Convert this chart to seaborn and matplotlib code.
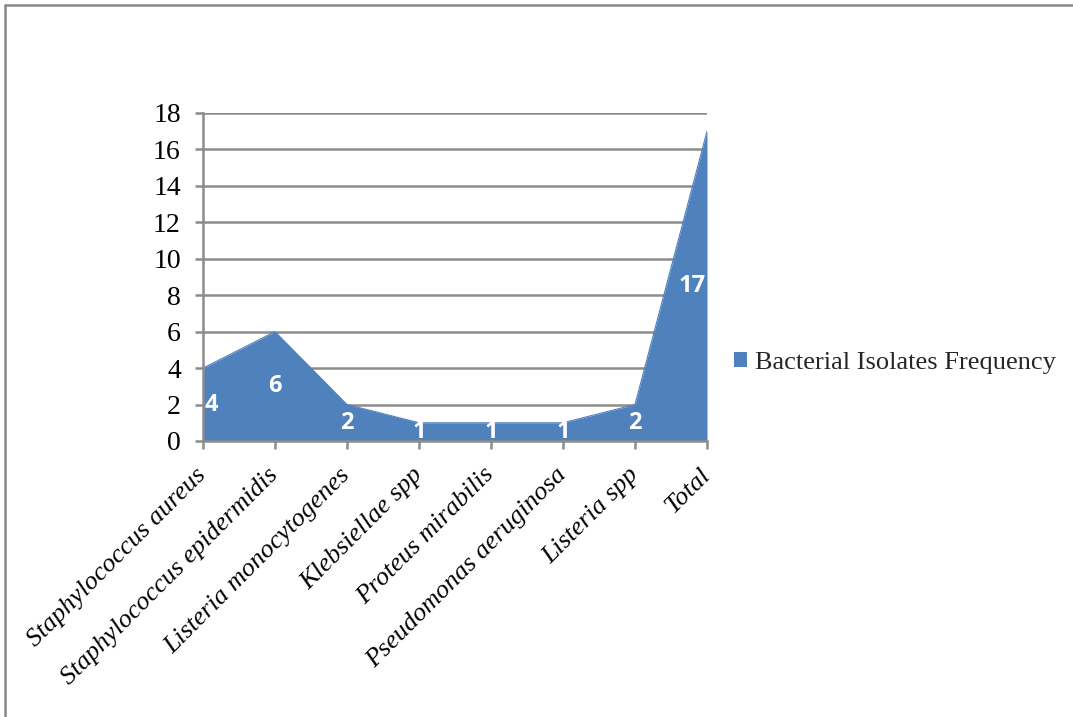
import matplotlib
matplotlib.use("Agg")
import matplotlib.pyplot as plt
from matplotlib.lines import Line2D
from matplotlib.patches import Patch
import seaborn as sns
import pandas as pd

# Isolate names and their counts
isolates = [
    "Staphylococcus aureus",
    "Staphylococcus epidermidis",
    "Listeria monocytogenes",
    "Klebsiellae spp",
    "Proteus mirabilis",
    "Pseudomonas aeruginosa",
    "Listeria spp",
    "Total",
]
frequency = [4, 6, 2, 1, 1, 1, 2, 17]
series_name = "Bacterial Isolates Frequency"
y_ticks = [0, 2, 4, 6, 8, 10, 12, 14, 16, 18]

fill_color = "#4F81BD"
grid_color = "#8C8C8C"

sns.set_theme(style="white")
plt.rcParams["font.family"] = ["Liberation Serif", "DejaVu Serif"]

df = pd.DataFrame({"pos": range(len(isolates)), "isolate": isolates, "count": frequency})

fig = plt.figure(figsize=(10.73, 7.17), dpi=100)
ax = fig.add_axes([203 / 1073, 1 - 441 / 717, 504 / 1073, 328 / 717])

# horizontal gridlines behind the area
for t in y_ticks[1:]:
    ax.axhline(t, color=grid_color, lw=1.8, zorder=0)

sns.lineplot(data=df, x="pos", y="count", ax=ax, color=fill_color, lw=0.8,
             legend=False, zorder=2)
ax.fill_between(df["pos"], 0, df["count"], color=fill_color, lw=0, zorder=2)

ax.set_xlim(0, len(isolates) - 1)
ax.set_ylim(0, 18)
ax.set_yticks(y_ticks)
ax.set_yticklabels([str(t) for t in y_ticks], fontsize=20)
ax.set_xticks(df["pos"])
ax.set_xticklabels(isolates, fontsize=19, style="italic", rotation=45,
                   ha="right", va="center", rotation_mode="anchor")
ax.set_xlabel("")
ax.set_ylabel("")

for side in ("top", "right"):
    ax.spines[side].set_visible(False)
for side in ("left", "bottom"):
    ax.spines[side].set_color(grid_color)
    ax.spines[side].set_linewidth(1.8)
    ax.spines[side].set_zorder(3)

ax.tick_params(axis="both", which="both", direction="out", length=6,
               width=1.8, color=grid_color, labelcolor="black",
               bottom=True, left=True)
ax.tick_params(axis="y", pad=10)
ax.tick_params(axis="x", pad=16)

# value labels, placed at mid-height of the area
n = len(frequency)
for i, v in enumerate(frequency):
    ha = "center"
    dx = 0
    if i == 0:
        ha, dx = "left", 0.02
    elif i == n - 1:
        ha, dx = "right", -0.02
    ax.text(i + dx, v / 2, str(v), color="white", ha=ha, va="center",
            fontsize=17, fontweight="bold", family=["Open Sans", "DejaVu Sans"],
            zorder=4)

# legend to the right of the plot
handle = Patch(facecolor=fill_color, edgecolor="none", label=series_name)
fig.legend(handles=[handle], loc="center left", bbox_to_anchor=(734 / 1073, 1 - 363 / 717),
           frameon=False, fontsize=19, handlelength=0.5, handleheight=0.5,
           handletextpad=0.3, borderaxespad=0, borderpad=0)

# outer frame around the chart
fig.add_artist(Line2D([5 / 1073, 1.0], [1 - 5 / 717, 1 - 5 / 717], color="#888888",
                      lw=1.8, transform=fig.transFigure))
fig.add_artist(Line2D([5 / 1073, 5 / 1073], [0, 1 - 5 / 717], color="#888888",
                      lw=1.8, transform=fig.transFigure))

fig.savefig("out.png", dpi=100, facecolor="white")
